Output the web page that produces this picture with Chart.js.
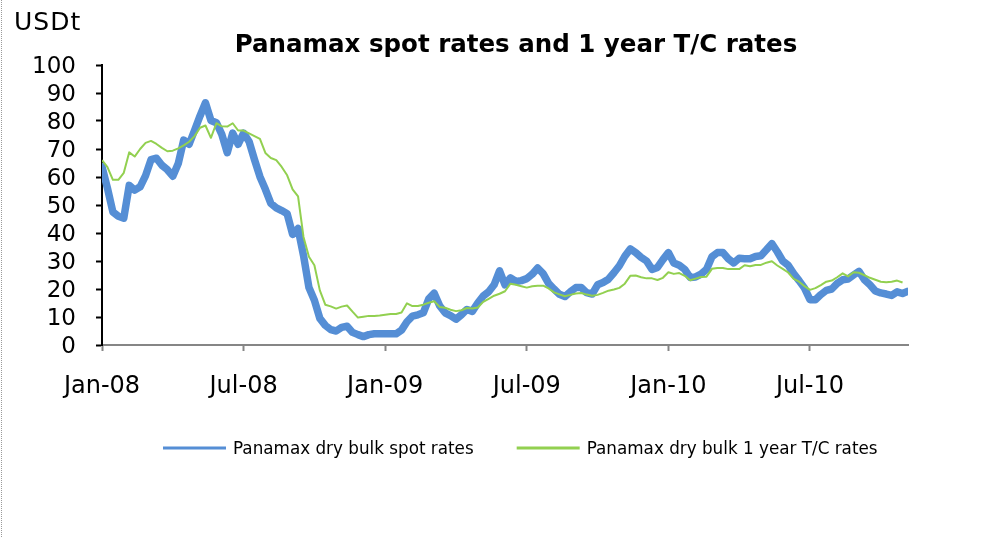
<!DOCTYPE html>
<html>
<head>
<meta charset="utf-8">
<script src="https://cdn.jsdelivr.net/npm/chart.js@4.4.1/dist/chart.umd.min.js"></script>
<style>
  html, body { margin: 0; padding: 0; background: #fff; overflow: hidden; }
  #wrap { position: relative; width: 988px; height: 537px; }
  #wrap::before { content: ''; position: absolute; left: 1px; top: 0; bottom: 0; border-left: 1px dotted #9a9a9a; }
  canvas { display: block; }
</style>
</head>
<body>
<div id="wrap"><canvas id="chart" width="988" height="537"></canvas></div>
<script>
const chartTitle = 'Panamax spot rates and 1 year T/C rates';
const unitLabel = 'USDt';

// weekly observations, first week of Jan 2008 = week 0
const tickWeeks = [0, 26, 52, 78, 104, 130];
const tickLabels = ['Jan-08', 'Jul-08', 'Jan-09', 'Jul-09', 'Jan-10', 'Jul-10'];

const spotRates = [
  63.7, 56, 47.5, 46, 45.3, 57, 55.3, 56.5, 60.5, 66.2,
  66.7, 64.2, 62.6, 60.3, 64.8, 73.2, 71.7, 76.7, 81.8, 86.5,
  80.2, 79.4, 75.2, 68.7, 75.7, 71.7, 75.7, 72.7, 66.2, 60.1,
  55.6, 50.6, 49, 48, 46.9, 39.5, 41.6, 32, 20.5, 16,
  9.5, 7, 5.5, 5, 6.3, 6.7, 4.5, 3.7, 3, 3.7,
  4, 4, 4, 4, 4, 5.3, 8.3, 10.3, 10.8, 11.5,
  16.5, 18.5, 14, 11.5, 10.5, 9.2, 10.8, 12.7, 12, 15,
  17.5, 19, 21.5, 26.5, 21.5, 24, 22.7, 23, 23.7, 25.3,
  27.5, 25.5, 22, 20, 18.1, 17.3, 19, 20.5, 20.5, 18.7,
  18.2, 21.5, 22.3, 23.5, 25.8, 28.3, 31.7, 34.3, 33, 31.3,
  30, 27, 27.7, 30.5, 33, 29.3, 28.5, 27, 24.1, 24.3,
  25.3, 27, 31.5, 33, 33, 30.8, 29.3, 31, 30.8, 30.8,
  31.6, 31.9, 34, 36.2, 33.3, 30, 28.5, 25.5, 23, 20.3,
  16.2, 16.2, 18, 19.5, 20, 22, 23.3, 23.6, 25, 26.3,
  23.3, 21.5, 19.3, 18.6, 18.2, 17.7, 19, 18.4, 19.2
];

const tcRates = [
  66, 63.5, 59, 59, 61.5, 68.8, 67.3, 70, 72.2, 72.9,
  71.8, 70.4, 69.2, 69.4, 70.2, 71.3, 72.6, 74.6, 77.6, 78.4,
  74, 79.2, 78.1, 78, 79.2, 76.6, 76.6, 75.6, 74.6, 73.6,
  68.6, 66.8, 66, 63.6, 60.6, 55.6, 53.1, 38.6, 31.5, 28.5,
  19.5, 14.4, 13.8, 13, 13.7, 14.1, 11.9, 9.8, 10.1, 10.4,
  10.4, 10.5, 10.8, 11.1, 11.1, 11.6, 14.9, 13.9, 13.9, 14.4,
  15.1, 15.6, 13.6, 13.3, 12.6, 12.1, 12.4, 13.2, 13, 13.4,
  15.4, 16.5, 17.6, 18.3, 19.2, 21.9, 21.5, 21, 20.5, 21,
  21.2, 21.2, 20.2, 18.8, 18.1, 17.4, 17.9, 18.4, 18.6, 18,
  17.6, 17.9, 18.6, 19.4, 19.8, 20.4, 21.9, 24.7, 24.8, 24.2,
  23.8, 23.8, 23.2, 24, 26, 25.4, 25.7, 24.7, 23.1, 23.7,
  24.3, 24.4, 27.2, 27.5, 27.5, 27.1, 27.1, 27.1, 28.5, 28.1,
  28.6, 28.6, 29.4, 29.9, 28.4, 27.2, 25.9, 23.6, 22.6, 21,
  19.7, 20.3, 21.4, 22.6, 23, 24.2, 25.6, 24.5, 26, 25.8,
  24.9, 24, 23.3, 22.6, 22.4, 22.6, 23, 22.3
];

const toPoints = arr => arr.map((v, i) => ({ x: i, y: v }));

Chart.defaults.font.family = '"DejaVu Sans", sans-serif';
Chart.defaults.color = '#000';

// title, unit and legend drawn on the canvas
const textPlugin = {
  id: 'texts',
  afterDraw(chart) {
    const ctx = chart.ctx;
    ctx.save();
    ctx.fillStyle = '#000';
    ctx.textBaseline = 'alphabetic';
    ctx.textAlign = 'left';
    ctx.font = '25px "DejaVu Sans"';
    ctx.letterSpacing = '1px';
    ctx.fillText(unitLabel, 14, 30);
    ctx.letterSpacing = '0px';

    ctx.font = 'bold 24.5px "DejaVu Sans"';
    ctx.textAlign = 'center';
    ctx.fillText(chartTitle, 516, 52);

    ctx.font = '16.8px "DejaVu Sans"';
    ctx.textAlign = 'left';
    let x = 163;
    chart.data.datasets.forEach(ds => {
      ctx.strokeStyle = ds.borderColor;
      ctx.lineWidth = 3;
      ctx.beginPath();
      ctx.moveTo(x, 448);
      ctx.lineTo(x + 63, 448);
      ctx.stroke();
      ctx.fillText(ds.label, x + 70, 454);
      x += 70 + ctx.measureText(ds.label).width + 43;
    });
    ctx.restore();
  }
};

new Chart(document.getElementById('chart'), {
  type: 'line',
  data: {
    datasets: [{
      label: 'Panamax dry bulk spot rates',
      data: toPoints(spotRates),
      borderColor: '#558ED5',
      borderWidth: 7.5,
      borderJoinStyle: 'round',
      borderCapStyle: 'round',
      order: 1
    }, {
      label: 'Panamax dry bulk 1 year T/C rates',
      data: toPoints(tcRates),
      borderColor: '#92D050',
      borderWidth: 2,
      borderJoinStyle: 'round',
      order: 0
    }]
  },
  options: {
    responsive: false,
    animation: false,
    devicePixelRatio: 1,
    elements: {
      point: { radius: 0 },
      line: { tension: 0 }
    },
    layout: {
      padding: { top: 65, right: 80, bottom: 130, left: 0 }
    },
    scales: {
      x: {
        type: 'linear',
        min: 0,
        max: 148,
        afterBuildTicks: s => { s.ticks = tickWeeks.map(v => ({ value: v })); },
        afterFit: s => { s.height = 62; },
        grid: { drawOnChartArea: false, tickLength: 6, tickWidth: 2, tickColor: '#868686' },
        border: { color: '#868686', width: 2 },
        ticks: {
          autoSkip: false,
          maxRotation: 0,
          padding: 21,
          font: { size: 24 },
          callback: (v, i) => tickLabels[i]
        }
      },
      y: {
        min: 0,
        max: 100,
        afterFit: s => { s.width = 102; },
        grid: { drawOnChartArea: false, tickLength: 6, tickWidth: 2, tickColor: '#000' },
        border: { color: '#000', width: 2 },
        ticks: {
          stepSize: 10,
          autoSkip: false,
          padding: 20,
          labelOffset: 2,
          font: { size: 23 }
        }
      }
    },
    plugins: {
      legend: { display: false },
      title: { display: false },
      tooltip: { enabled: false }
    }
  },
  plugins: [textPlugin]
});
</script>
</body>
</html>
